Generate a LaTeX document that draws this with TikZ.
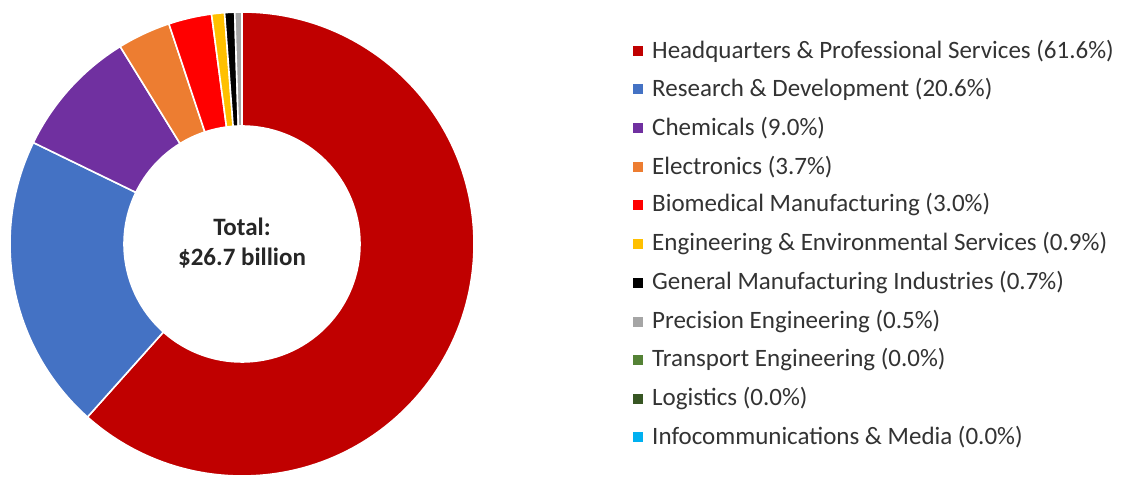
\documentclass[tikz,border=0pt]{standalone}
\usepackage{fontspec}
\setmainfont{Carlito}
\definecolor{cHQ}{HTML}{C00000}
\definecolor{cRD}{HTML}{4472C4}
\definecolor{cCH}{HTML}{7030A0}
\definecolor{cEL}{HTML}{ED7D31}
\definecolor{cBI}{HTML}{FF0000}
\definecolor{cEN}{HTML}{FFC000}
\definecolor{cGM}{HTML}{000000}
\definecolor{cPR}{HTML}{A5A5A5}
\definecolor{cTR}{HTML}{548235}
\definecolor{cLO}{HTML}{375623}
\definecolor{cIN}{HTML}{00B0F0}
\definecolor{txt}{HTML}{333333}
\tikzset{
  slice/.style={draw=white, line width=1.6pt, line join=round},
  legtext/.style={anchor=west, inner sep=0pt, text=txt, font=\fontsize{25}{29}\selectfont},
  legmark/.style={minimum size=10pt, inner sep=0pt},
}
\newcommand{\donutslice}[3]{%
  \filldraw[slice, fill=#3] (#1:232pt) arc[start angle=#1, end angle=#2, radius=232pt]
    -- (#2:118pt) arc[start angle=#2, end angle=#1, radius=118pt] -- cycle;}
\begin{document}
\begin{tikzpicture}[x=1pt,y=1pt]
\useasboundingbox[fill=white] (0,0) rectangle (1124,478);
\begin{scope}[shift={(242,234)}]
\donutslice{90}{-131.76}{cHQ}
\donutslice{-131.76}{-205.92}{cRD}
\donutslice{-205.92}{-238.32}{cCH}
\donutslice{-238.32}{-251.64}{cEL}
\donutslice{-251.64}{-262.44}{cBI}
\donutslice{-262.44}{-265.68}{cEN}
\donutslice{-265.68}{-268.20}{cGM}
\donutslice{-268.20}{-270}{cPR}
\end{scope}
\node[font=\bfseries\fontsize{25}{29}\selectfont, text=black!85, align=center] (total) at (242,235) {Total:\\[1pt]\$26.7 billion};
\foreach \y/\c/\t [count=\i] in {
 427/cHQ/{Headquarters \& Professional Services (61.6\%)},
 389/cRD/{Research \& Development (20.6\%)},
 350/cCH/{Chemicals (9.0\%)},
 311/cEL/{Electronics (3.7\%)},
 273/cBI/{Biomedical Manufacturing (3.0\%)},
 234/cEN/{Engineering \& Environmental Services (0.9\%)},
 195/cGM/{General Manufacturing Industries (0.7\%)},
 156/cPR/{Precision Engineering (0.5\%)},
 118/cTR/{Transport Engineering (0.0\%)},
 79/cLO/{Logistics (0.0\%)},
 41/cIN/{Infocommunications \& Media (0.0\%)}} {
  \node[legmark, fill=\c] (m\i) at (638,\y) {};
  \node[legtext] (l\i) at (652,\y) {\t};
}
\end{tikzpicture}
\end{document}
